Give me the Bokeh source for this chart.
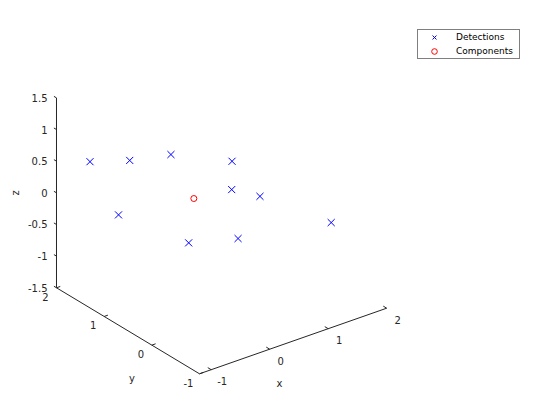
import numpy as np
from bokeh.plotting import figure
from bokeh.models import Range1d, Legend, LegendItem
from bokeh.core.properties import value
from bokeh.embed import file_html
from bokeh.resources import INLINE

# ---- data ----
det_x = [-0.79, -0.60, -0.14, 0.66, 0.41, 0.73, -0.71, 1.54, 0.00, 0.60]
det_y = [1.8, 1.2, 0.9, 0.6, 0.3, 0.1, 1.3, -0.4, 0.7, 0.4]
det_z = [0.45, 0.68, 0.76, 0.53, 0.30, 0.18, -0.19, -0.27, -0.59, -0.58]
comp_x = [0.17]
comp_y = [0.8]
comp_z = [0.01]

x_ticks = [-1, 0, 1, 2]
y_ticks = [-1, 0, 1, 2]
z_ticks = [-1.5, -1, -0.5, 0, 0.5, 1, 1.5]
x_tick_labels = ["-1", "0", "1", "2"]
y_tick_labels = ["-1", "0", "1", "2"]
z_tick_labels = ["-1.5", "-1", "-0.5", "0", "0.5", "1", "1.5"]
x_lim = (-1.2, 2.0)
y_lim = (-1.0, 2.0)
z_lim = (-1.5, 1.5)

# ---- projection (page pixel coordinates) ----
ORIGIN = (199.0, 373.3)
EX = np.array([58.5, -20.5])
EY = np.array([-47.67, -28.67])
EZ = np.array([0.0, -63.3])


def proj(x, y, z):
    x = np.atleast_1d(np.asarray(x, float))
    y = np.atleast_1d(np.asarray(y, float))
    z = np.atleast_1d(np.asarray(z, float))
    a = x - x_lim[0]
    b = y - y_lim[0]
    c = z - z_lim[0]
    px = ORIGIN[0] + a * EX[0] + b * EY[0] + c * EZ[0]
    py = ORIGIN[1] + a * EX[1] + b * EY[1] + c * EZ[1]
    return px, py


def unit(v):
    return v / np.hypot(*v)


AX = "#262626"
FONT = value("DejaVu Sans")

p = figure(width=544, height=404, x_range=Range1d(0, 544), y_range=Range1d(404, 0),
           min_border=0, toolbar_location=None, output_backend="svg",
           x_axis_location=None, y_axis_location=None, outline_line_color=None)
p.grid.visible = False
p.background_fill_color = "white"

# axis lines
xa0, ya0 = proj(x_lim[0], y_lim[0], z_lim[0])
xa1, ya1 = proj(x_lim[1], y_lim[0], z_lim[0])
yb0, yb1 = proj(x_lim[0], y_lim[1], z_lim[0])
zt0, zt1 = proj(x_lim[0], y_lim[1], z_lim[1])
p.line([xa0[0], xa1[0]], [ya0[0], ya1[0]], line_color=AX, line_width=1)
p.line([xa0[0], yb0[0]], [ya0[0], yb1[0]], line_color=AX, line_width=1)
p.line([yb0[0], zt0[0]], [yb1[0], zt1[0]], line_color=AX, line_width=1)

TL = 4.0
uy = unit(EY)
ux = unit(EX)

# x ticks
tx, ty = proj(x_ticks, [y_lim[0]] * len(x_ticks), [z_lim[0]] * len(x_ticks))
p.segment(tx, ty, tx + uy[0] * TL, ty + uy[1] * TL, line_color=AX, line_width=1)
p.text(x=tx + 11, y=ty + 11.5, text=x_tick_labels, text_font=FONT, text_font_size=value("10px"),
       text_color=AX, text_align="center", text_baseline="middle")

# y ticks
sx, sy = proj([x_lim[0]] * len(y_ticks), y_ticks, [z_lim[0]] * len(y_ticks))
p.segment(sx, sy, sx + ux[0] * TL, sy + ux[1] * TL, line_color=AX, line_width=1)
p.text(x=sx - 11, y=sy + 9, text=y_tick_labels, text_font=FONT, text_font_size=value("10px"),
       text_color=AX, text_align="center", text_baseline="middle")

# z ticks
qx, qy = proj([x_lim[0]] * len(z_ticks), [y_lim[1]] * len(z_ticks), z_ticks)
p.segment(qx, qy, qx + uy[0] * 3, qy + uy[1] * 3, line_color=AX, line_width=1)
p.text(x=qx - 9, y=qy, text=z_tick_labels, text_font=FONT, text_font_size=value("10px"),
       text_color=AX, text_align="right", text_baseline="middle")

# axis labels
mx, my = proj(np.mean(x_lim), y_lim[0], z_lim[0])
ny_, nyy = proj(x_lim[0], np.mean(y_lim), z_lim[0])
mz, mzz = proj(x_lim[0], y_lim[1], np.mean(z_lim))
p.text(x=mx - 13.6, y=my + 42, text=["x"], text_font=FONT, text_font_size=value("10px"),
       text_color=AX, text_align="center", text_baseline="middle")
p.text(x=ny_ + 4, y=nyy + 48, text=["y"], text_font=FONT, text_font_size=value("10px"),
       text_color=AX, text_align="center", text_baseline="middle")
p.text(x=mz - 41, y=mzz, text=["z"], text_font=FONT, text_font_size=value("10px"),
       text_color=AX, text_align="center", text_baseline="middle", angle=np.pi / 2)

# data
dx, dy = proj(det_x, det_y, det_z)
cx, cy = proj(comp_x, comp_y, comp_z)
r1 = p.scatter(dx, dy, marker="x", size=10, line_color="#0000ff", line_width=1)
r2 = p.scatter(cx, cy, marker="circle", size=6, line_color="#ff0000", fill_color=None, line_width=1)

legend = Legend(items=[LegendItem(label="Detections", renderers=[r1]),
                       LegendItem(label="Components", renderers=[r2])],
                location=(417, 404 - 59), margin=0, padding=0, spacing=0,
                glyph_width=32, glyph_height=14, label_height=14, label_standoff=6,
                label_width=63,
                label_text_font="DejaVu Sans", label_text_font_size="9px", label_text_color="#000000",
                border_line_color="#000000", border_line_width=1,
                background_fill_color="white", background_fill_alpha=1.0)
p.add_layout(legend)

open("out.html", "w").write(file_html(p, INLINE))
